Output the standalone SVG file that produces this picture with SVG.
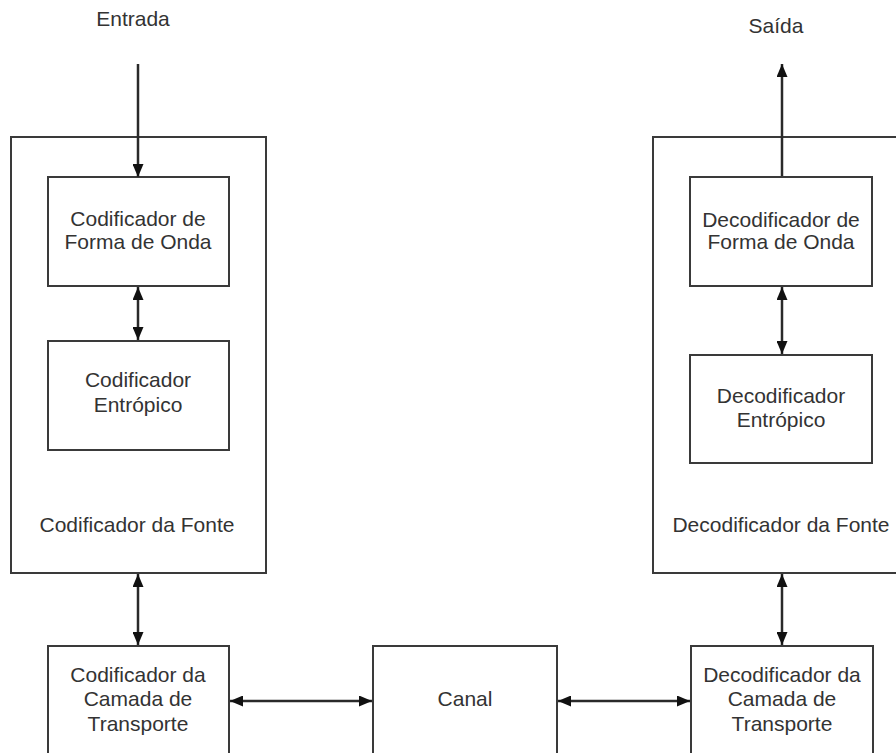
<svg xmlns="http://www.w3.org/2000/svg" width="896" height="753" viewBox="0 0 896 753">
<style>
.box{fill:#fff;stroke:#3a3a3a;stroke-width:2}
.outer{fill:#fff;stroke:#3a3a3a;stroke-width:2}
.t{font-family:"Liberation Sans",Arial,sans-serif;font-size:21px;fill:#333;text-anchor:middle}
.c{stroke:#2a2a2a;stroke-width:2.5;fill:none}
</style>
<defs>
<marker id="ah" viewBox="0 0 13 11" refX="13" refY="5.5" markerWidth="13" markerHeight="11" markerUnits="userSpaceOnUse" orient="auto-start-reverse">
<path d="M0,0 L13,5.5 L0,11 z" fill="#111"/>
</marker>
</defs>
<rect width="896" height="753" fill="#fff"/>
<g id="codificador-fonte">
<rect class="outer" x="11" y="137" width="255" height="436"/>
<text class="t" x="137" y="532">Codificador da Fonte</text>
</g>
<g id="decodificador-fonte">
<rect class="outer" x="653" y="137" width="257" height="436"/>
<text class="t" x="781" y="532">Decodificador da Fonte</text>
</g>
<g id="entrada">
<text class="t" x="133" y="26">Entrada</text>
</g>
<g id="saida">
<text class="t" x="776" y="33">Saída</text>
</g>
<g id="cod-forma-onda">
<rect class="box" x="48" y="177" width="181" height="109"/>
<text class="t" x="138" y="226">Codificador de</text>
<text class="t" x="138" y="249">Forma de Onda</text>
</g>
<g id="cod-entropico">
<rect class="box" x="48" y="341" width="181" height="109"/>
<text class="t" x="138" y="387">Codificador</text>
<text class="t" x="138" y="412">Entrópico</text>
</g>
<g id="dec-forma-onda">
<rect class="box" x="690" y="177" width="182" height="109"/>
<text class="t" x="781" y="227">Decodificador de</text>
<text class="t" x="781" y="249">Forma de Onda</text>
</g>
<g id="dec-entropico">
<rect class="box" x="690" y="355" width="182" height="108"/>
<text class="t" x="781" y="403">Decodificador</text>
<text class="t" x="781" y="427">Entrópico</text>
</g>
<g id="cod-transporte">
<rect class="box" x="48" y="646" width="181" height="120"/>
<text class="t" x="138" y="682">Codificador da</text>
<text class="t" x="138" y="706">Camada de</text>
<text class="t" x="138" y="731">Transporte</text>
</g>
<g id="canal">
<rect class="box" x="373" y="646" width="184" height="120"/>
<text class="t" x="465" y="706">Canal</text>
</g>
<g id="dec-transporte">
<rect class="box" x="691" y="646" width="182" height="120"/>
<text class="t" x="782" y="682">Decodificador da</text>
<text class="t" x="782" y="706">Camada de</text>
<text class="t" x="782" y="731">Transporte</text>
</g>
<g id="connectors">
<line class="c" x1="138" y1="64" x2="138" y2="177" marker-end="url(#ah)"/>
<line class="c" x1="138" y1="287" x2="138" y2="340" marker-start="url(#ah)" marker-end="url(#ah)"/>
<line class="c" x1="138" y1="574" x2="138" y2="645" marker-start="url(#ah)" marker-end="url(#ah)"/>
<line class="c" x1="230" y1="701" x2="372" y2="701" marker-start="url(#ah)" marker-end="url(#ah)"/>
<line class="c" x1="558" y1="701" x2="690" y2="701" marker-start="url(#ah)" marker-end="url(#ah)"/>
<line class="c" x1="782" y1="574" x2="782" y2="645" marker-start="url(#ah)" marker-end="url(#ah)"/>
<line class="c" x1="782" y1="287" x2="782" y2="354" marker-start="url(#ah)" marker-end="url(#ah)"/>
<line class="c" x1="782" y1="176" x2="782" y2="64" marker-end="url(#ah)"/>
</g>
</svg>
